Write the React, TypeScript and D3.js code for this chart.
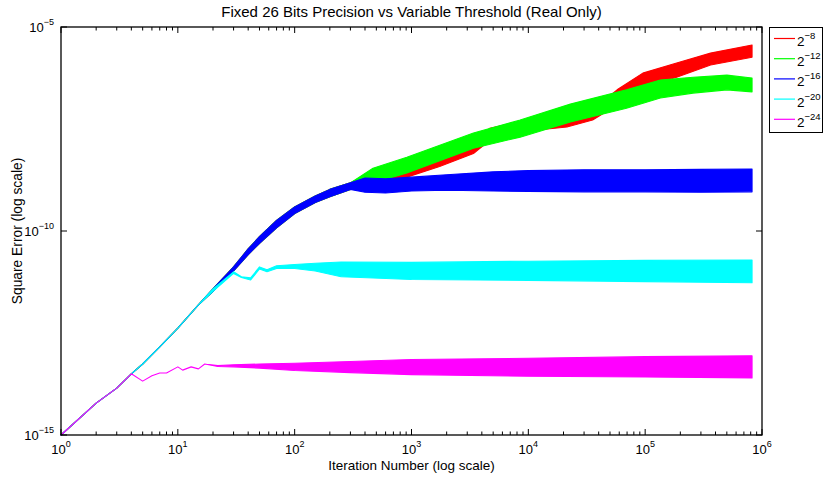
import React from 'react'
import * as d3 from 'd3'

// values below are log10(square error)
const rampIter = [1, 2, 3, 4, 5, 7, 10, 15, 20, 30, 40, 50, 70, 100, 150, 200, 300]
const rampHi = [-15, -14.22, -13.85, -13.5, -13.26, -12.84, -12.38, -11.81, -11.42, -10.88, -10.44, -10.14, -9.74, -9.41, -9.14, -8.98, -8.82]
const rampLo = [-15, -14.22, -13.85, -13.5, -13.26, -12.84, -12.38, -11.81, -11.48, -10.98, -10.58, -10.3, -9.92, -9.57, -9.3, -9.16, -8.98]

const redIter = [468, 912, 1740, 3390, 4680, 12600, 21400, 35500, 57500, 95500, 186000, 363000, 822000]
const redHi = [-8.55, -8.43, -8.18, -7.86, -7.48, -7.21, -7.23, -7.03, -6.54, -6.13, -5.88, -5.64, -5.44]
const redLo = [-8.87, -8.68, -8.42, -8.1, -7.78, -7.52, -7.45, -7.28, -6.91, -6.47, -6.23, -5.93, -5.74]

const greenIter = [468, 912, 3390, 8510, 22900, 69200, 135000, 257000, 501000, 822000]
const greenHi = [-8.46, -8.19, -7.6, -7.28, -6.89, -6.54, -6.3, -6.23, -6.18, -6.25]
const greenLo = [-8.82, -8.58, -7.97, -7.7, -7.33, -6.99, -6.74, -6.62, -6.54, -6.59]

const blueIter = [400, 600, 1000, 2000, 5000, 10000, 30000, 100000, 300000, 822000]
const blueHi = [-8.7, -8.72, -8.68, -8.62, -8.55, -8.52, -8.5, -8.5, -8.49, -8.48]
const blueLo = [-9.05, -9.07, -9.02, -9.0, -9.02, -9.03, -9.04, -9.04, -9.05, -9.04]

const cyanIter = [30, 35, 42, 50, 58, 70, 100, 150, 250, 1000, 10000, 100000, 822000]
const cyanHi = [-11.0, -11.12, -11.15, -10.88, -10.95, -10.85, -10.82, -10.79, -10.76, -10.77, -10.74, -10.72, -10.71]
const cyanLo = [-11.04, -11.14, -11.2, -10.93, -11.0, -10.92, -10.92, -10.98, -11.12, -11.19, -11.21, -11.24, -11.27]

const magentaIter = [5, 6, 7, 8, 10, 11, 13, 15, 17, 22, 30, 50, 100, 300, 1000, 10000, 100000, 822000]
const magentaHi = [-13.68, -13.55, -13.48, -13.48, -13.33, -13.41, -13.33, -13.38, -13.26, -13.3, -13.28, -13.26, -13.24, -13.2, -13.15, -13.12, -13.08, -13.06]
const magentaLo = [-13.68, -13.55, -13.48, -13.48, -13.33, -13.41, -13.33, -13.38, -13.26, -13.32, -13.33, -13.36, -13.42, -13.47, -13.52, -13.56, -13.58, -13.6]

const legendLabels = ['-8', '-12', '-16', '-20', '-24']
const colors = ['#ff0000', '#00ff00', '#0000ff', '#00ffff', '#ff00ff']
const yTickExps = [-15, -10, -5]

const W = 824
const H = 477
const plot = { left: 61, right: 762, top: 27, bottom: 435 }
const font = '"Liberation Sans", Arial, Helvetica, sans-serif'

type Pt = { i: number; lo: number; hi: number }

const build = (rampUpTo: number, iter: number[], lo: number[], hi: number[]): Pt[] => {
  const pts: Pt[] = []
  rampIter.forEach((it, k) => {
    if (it <= rampUpTo) pts.push({ i: it, lo: rampLo[k], hi: rampHi[k] })
  })
  iter.forEach((it, k) => pts.push({ i: it, lo: lo[k], hi: hi[k] }))
  return pts
}

const series = [
  build(300, redIter, redLo, redHi),
  build(300, greenIter, greenLo, greenHi),
  build(300, blueIter, blueLo, blueHi),
  build(20, cyanIter, cyanLo, cyanHi),
  build(4, magentaIter, magentaLo, magentaHi),
]

const minus = (s: string) => s.replace('-', '\u2212')

export default function App() {
  const x = d3.scaleLog().domain([1, 1e6]).range([plot.left, plot.right])
  const y = d3.scaleLog().domain([1e-15, 1e-5]).range([plot.bottom, plot.top])

  const area = d3
    .area<Pt>()
    .x((d) => x(d.i))
    .y0((d) => y(Math.pow(10, d.lo)))
    .y1((d) => y(Math.pow(10, d.hi)))

  const xTicks = x.ticks()
  const isMajor = (v: number) => Math.abs(Math.log10(v) - Math.round(Math.log10(v))) < 1e-9

  return (
    <div style={{ position: 'absolute', left: 0, top: 0 }}>
      <svg width={W} height={H} style={{ display: 'block', background: '#fff' }} fontFamily={font}>
        <rect x={0} y={0} width={W} height={H} fill="#fff" />

        {series.map((pts, k) => (
          <path
            key={k}
            d={area(pts) || ''}
            fill={colors[k]}
            stroke={colors[k]}
            strokeWidth={1.1}
            strokeLinejoin="round"
          />
        ))}

        {/* axes box */}
        <rect
          x={plot.left}
          y={plot.top}
          width={plot.right - plot.left}
          height={plot.bottom - plot.top}
          fill="none"
          stroke="#000"
          strokeWidth={1.3}
        />

        {xTicks.map((v, k) => {
          const len = isMajor(v) ? 6 : 3.5
          const px = x(v)
          return (
            <g key={k} stroke="#000" strokeWidth={1}>
              <line x1={px} x2={px} y1={plot.bottom} y2={plot.bottom - len} />
              <line x1={px} x2={px} y1={plot.top} y2={plot.top + len} />
            </g>
          )
        })}
        {xTicks.filter(isMajor).map((v, k) => (
          <text key={k} x={x(v)} y={plot.bottom + 19} fontSize={13} textAnchor="middle" fill="#000">
            <tspan>10</tspan>
            <tspan dy={-7} fontSize={9}>
              {Math.round(Math.log10(v))}
            </tspan>
          </text>
        ))}

        {yTickExps.map((e, k) => {
          const py = y(Math.pow(10, e))
          return (
            <g key={k}>
              <line x1={plot.left} x2={plot.left + 6} y1={py} y2={py} stroke="#000" />
              <line x1={plot.right} x2={plot.right - 6} y1={py} y2={py} stroke="#000" />
              <text x={54} y={py + 5} fontSize={13} textAnchor="end" fill="#000">
                <tspan>10</tspan>
                <tspan dy={-7} fontSize={9}>
                  {minus(String(e))}
                </tspan>
              </text>
            </g>
          )
        })}

        <text x={(plot.left + plot.right) / 2} y={17} fontSize={15} textAnchor="middle" fill="#000">
          Fixed 26 Bits Precision vs Variable Threshold (Real Only)
        </text>
        <text x={(plot.left + plot.right) / 2} y={470} fontSize={13.5} textAnchor="middle" fill="#000">
          Iteration Number (log scale)
        </text>
        <text
          transform={`translate(22, ${(plot.top + plot.bottom) / 2}) rotate(-90)`}
          fontSize={13.8}
          textAnchor="middle"
          fill="#000"
        >
          Square Error (log scale)
        </text>

        {/* legend */}
        <rect x={769.5} y={27.5} width={53} height={105} fill="#fff" stroke="#000" strokeWidth={1} />
        {legendLabels.map((lab, k) => {
          const ly = 38.5 + k * 20.2
          return (
            <g key={k}>
              <line x1={774} x2={795} y1={ly} y2={ly} stroke={colors[k]} strokeWidth={1.2} />
              <text x={797} y={ly + 7.5} fontSize={13.5} fill="#000">
                <tspan>2</tspan>
                <tspan dy={-7} fontSize={9.5}>
                  {minus(lab)}
                </tspan>
              </text>
            </g>
          )
        })}
      </svg>
    </div>
  )
}
